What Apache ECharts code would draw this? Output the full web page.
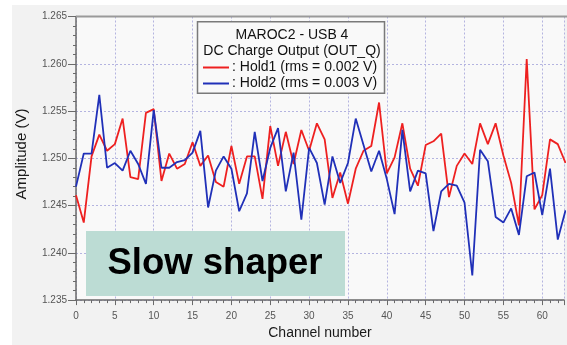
<!DOCTYPE html>
<html>
<head>
<meta charset="utf-8">
<script src="https://cdn.jsdelivr.net/npm/echarts@6/dist/echarts.min.js"></script>
<style>
  html, body { margin: 0; padding: 0; background: #ffffff; }
  #chart { width: 567px; height: 345px; }
</style>
</head>
<body>
<div id="chart"></div>
<script>
// channel numbers (x axis)
var channels = [0, 1, 2, 3, 4, 5, 6, 7, 8, 9, 10, 11, 12, 13, 14, 15,
  16, 17, 18, 19, 20, 21, 22, 23, 24, 25, 26, 27, 28, 29, 30, 31,
  32, 33, 34, 35, 36, 37, 38, 39, 40, 41, 42, 43, 44, 45, 46, 47,
  48, 49, 50, 51, 52, 53, 54, 55, 56, 57, 58, 59, 60, 61, 62, 63];

// DC output per channel, volts
var hold1 = [1.2461, 1.2432, 1.2502, 1.2525, 1.2508, 1.2515, 1.2542, 1.2480,
  1.2478, 1.2548, 1.2552, 1.2476, 1.2505, 1.2489, 1.2494, 1.2517,
  1.2492, 1.2503, 1.2475, 1.2470, 1.2513, 1.2473, 1.2502, 1.2502,
  1.2457, 1.2534, 1.2492, 1.2528, 1.2494, 1.2530, 1.2508, 1.2537,
  1.2520, 1.2458, 1.2485, 1.2452, 1.2489, 1.2508, 1.2513, 1.2559,
  1.2484, 1.2501, 1.2537, 1.2489, 1.2471, 1.2514, 1.2518, 1.2526,
  1.2459, 1.2492, 1.2505, 1.2494, 1.2537, 1.2515, 1.2537, 1.2503,
  1.2474, 1.2429, 1.2605, 1.2446, 1.2461, 1.2520, 1.2515, 1.2495];

var hold2 = [1.2470, 1.2505, 1.2505, 1.2567, 1.2490, 1.2495, 1.2487, 1.2508,
  1.2494, 1.2473, 1.2551, 1.2490, 1.2490, 1.2496, 1.2498, 1.2506,
  1.2529, 1.2448, 1.2487, 1.2502, 1.2489, 1.2444, 1.2463, 1.2528,
  1.2476, 1.2511, 1.2532, 1.2465, 1.2506, 1.2435, 1.2511, 1.2495,
  1.2451, 1.2502, 1.2474, 1.2495, 1.2542, 1.2514, 1.2486, 1.2508,
  1.2478, 1.2441, 1.2530, 1.2465, 1.2487, 1.2484, 1.2423, 1.2465,
  1.2473, 1.2471, 1.2453, 1.2376, 1.2509, 1.2497, 1.2438, 1.2432,
  1.2447, 1.2419, 1.2481, 1.2485, 1.2440, 1.2489, 1.2414, 1.2445];

var seriesNames = [': Hold1 (rms = 0.002 V)', ': Hold2 (rms = 0.003 V)'];
var titleLines = ['MAROC2 - USB 4', 'DC Charge Output (OUT_Q)'];

var FONT = '"Liberation Sans", Arial, sans-serif';

function pairs(ys) {
  return channels.map(function (c, i) { return [c, ys[i]]; });
}

var myChart = echarts.init(document.getElementById('chart'), null, { renderer: 'canvas' });

var option = {
  animation: false,
  backgroundColor: '#ffffff',
  textStyle: { fontFamily: FONT },
  grid: {
    left: 76, right: 0, top: 16.5, bottom: 36.7,
    show: true, backgroundColor: '#f9f9f9', borderWidth: 0
  },
  xAxis: {
    type: 'value',
    min: 0, max: 62.8, interval: 5,
    name: 'Channel number',
    nameLocation: 'middle',
    nameGap: 22,
    nameTextStyle: { fontSize: 14, color: '#1a1a1a', fontFamily: FONT },
    axisLine: { lineStyle: { color: '#6a6a6a', width: 1.5 } },
    axisTick: { length: 5, lineStyle: { color: '#6a6a6a' } },
    minorTick: { show: true, splitNumber: 5, length: 3, lineStyle: { color: '#6a6a6a' } },
    axisLabel: {
      fontSize: 10, color: '#555', margin: 11, fontFamily: FONT,
      formatter: function (v) { return v % 5 === 0 ? String(v) : ''; }
    },
    splitLine: { show: true, lineStyle: { color: '#b4b4e0', type: [2, 2], width: 1 } }
  },
  yAxis: {
    type: 'value',
    min: 1.235, max: 1.265, interval: 0.005,
    axisLine: { show: true, lineStyle: { color: '#6a6a6a', width: 1.5 } },
    axisTick: { show: true, length: 8, lineStyle: { color: '#6a6a6a' } },
    minorTick: { show: true, splitNumber: 5, length: 3, lineStyle: { color: '#6a6a6a' } },
    axisLabel: {
      fontSize: 10, color: '#555', margin: 9, fontFamily: FONT,
      formatter: function (v) { return v.toFixed(3); }
    },
    splitLine: { show: true, lineStyle: { color: '#b4b4e0', type: [2, 2], width: 1 } }
  },
  legend: {
    orient: 'vertical',
    left: 203, top: 59.5,
    padding: 0,
    itemGap: 0,
    itemWidth: 26, itemHeight: 2,
    icon: 'rect',
    data: seriesNames,
    textStyle: { fontSize: 14, color: '#111', lineHeight: 16, fontFamily: FONT, padding: [0, 0, 0, -2] },
    z: 6
  },
  series: [
    {
      name: seriesNames[0],
      type: 'line',
      data: pairs(hold1),
      showSymbol: false,
      lineStyle: { color: '#ee2020', width: 1.8 },
      itemStyle: { color: '#ee2020' },
      z: 3
    },
    {
      name: seriesNames[1],
      type: 'line',
      data: pairs(hold2),
      showSymbol: false,
      lineStyle: { color: '#2030b8', width: 1.8 },
      itemStyle: { color: '#2030b8' },
      z: 3
    }
  ],
  graphic: [
    // grey panel behind the plot
    { type: 'rect', z: -10, silent: true,
      shape: { x: 12, y: 5, width: 555, height: 340 },
      style: { fill: '#f2f2f2' } },
    // solid frame line on top of the plot
    { type: 'line', z: 4, silent: true,
      shape: { x1: 76, y1: 16.5, x2: 567, y2: 16.5 },
      style: { stroke: '#9a9a9a', lineWidth: 2 } },
    // legend box
    { type: 'rect', z: 5, silent: true,
      shape: { x: 197.5, y: 21.7, width: 187, height: 71.6 },
      style: { fill: '#f9f9f9', stroke: '#7a7a7a', lineWidth: 1.5 } },
    { type: 'text', z: 6, silent: true,
      style: { text: titleLines[0], x: 292, y: 34.8, align: 'center', verticalAlign: 'middle',
        fontSize: 14, fill: '#111', fontFamily: FONT } },
    { type: 'text', z: 6, silent: true,
      style: { text: titleLines[1], x: 292, y: 50.8, align: 'center', verticalAlign: 'middle',
        fontSize: 14, fill: '#111', fontFamily: FONT } },
    // y axis title
    { type: 'text', z: 6, silent: true,
      x: 22, y: 154, rotation: Math.PI / 2,
      style: { text: 'Amplitude (V)', x: 0, y: 0, align: 'center', verticalAlign: 'middle',
        fontSize: 15, fill: '#1a1a1a', fontFamily: FONT } },
    // "Slow shaper" label box
    { type: 'rect', z: 20, silent: true,
      shape: { x: 86, y: 231, width: 259, height: 65 },
      style: { fill: '#bcdcd4' } },
    { type: 'text', z: 21, silent: true,
      style: { text: 'Slow shaper', x: 215, y: 264, align: 'center', verticalAlign: 'middle',
        fontSize: 36.5, fontWeight: 'bold', fill: '#000', fontFamily: FONT } }
  ]
};

myChart.setOption(option);
</script>
</body>
</html>
